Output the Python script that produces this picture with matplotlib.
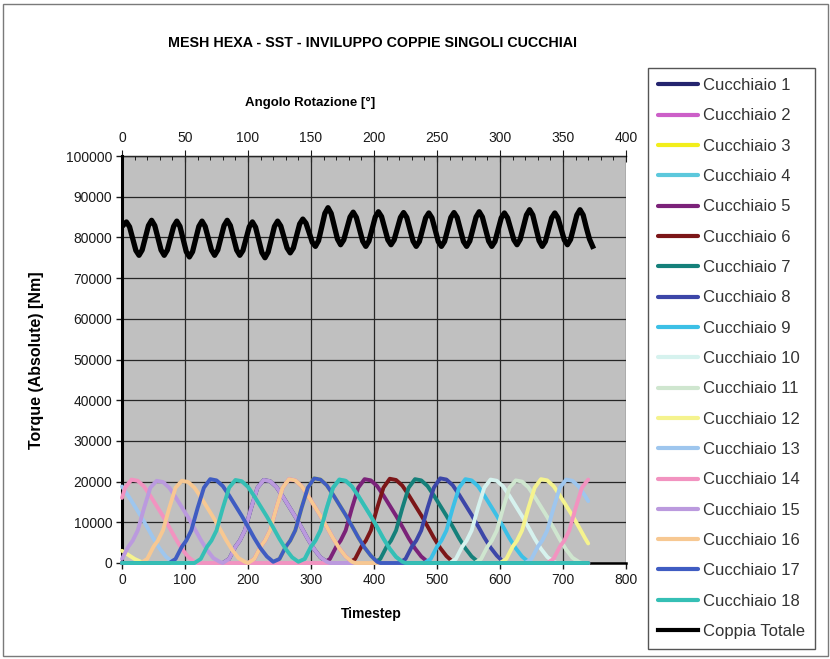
import numpy as np
import matplotlib
matplotlib.use('Agg')
import matplotlib.pyplot as plt
from matplotlib.ticker import MultipleLocator, FuncFormatter
from matplotlib.patches import Rectangle

plt.rcParams['font.family'] = ['Liberation Sans', 'DejaVu Sans']

# torque of each spoon, kNm (timestep, value)
t1 = [0, 160, 170, 180, 187, 195, 205, 215, 225, 235, 245, 255, 265, 275, 285, 295, 305, 315, 325, 330, 740]
v1 = [0, 0, 1.0, 4.0, 5.5, 8.0, 13.5, 18.5, 20.4, 20.1, 18.7, 16.4, 13.9, 11.4, 8.7, 5.9, 3.4, 1.4, 0.3, 0, 0]
t2 = [0, 200, 210, 220, 227, 235, 245, 255, 265, 275, 285, 295, 305, 315, 325, 335, 345, 355, 365, 370, 740]
v2 = [0, 0, 1.0, 4.0, 5.5, 8.0, 13.5, 18.5, 20.6, 20.3, 18.9, 16.6, 14.1, 11.6, 8.9, 6.1, 3.6, 1.6, 0.3, 0, 0]
t3 = [0, 240, 250, 260, 267, 275, 285, 295, 305, 315, 325, 335, 345, 355, 365, 375, 385, 395, 405, 410, 740]
v3 = [0, 0, 1.0, 4.0, 5.5, 8.0, 13.5, 18.5, 20.8, 20.5, 19.1, 16.8, 14.3, 11.8, 9.1, 6.3, 3.8, 1.8, 0.3, 0, 0]
t4 = [0, 280, 290, 300, 307, 315, 325, 335, 345, 355, 365, 375, 385, 395, 405, 415, 425, 435, 445, 450, 740]
v4 = [0, 0, 1.0, 4.0, 5.5, 8.0, 13.5, 18.5, 20.5, 20.2, 18.8, 16.5, 14.0, 11.5, 8.8, 6.0, 3.5, 1.5, 0.3, 0, 0]
t5 = [0, 320, 330, 340, 347, 355, 365, 375, 385, 395, 405, 415, 425, 435, 445, 455, 465, 475, 485, 490, 740]
v5 = [0, 0, 1.0, 4.0, 5.5, 8.0, 13.5, 18.5, 20.6, 20.3, 18.9, 16.6, 14.1, 11.6, 8.9, 6.1, 3.6, 1.6, 0.3, 0, 0]
t6 = [0, 360, 370, 380, 387, 395, 405, 415, 425, 435, 445, 455, 465, 475, 485, 495, 505, 515, 525, 530, 740]
v6 = [0, 0, 1.0, 4.0, 5.5, 8.0, 13.5, 18.5, 20.7, 20.4, 19.0, 16.7, 14.2, 11.7, 9.0, 6.2, 3.7, 1.7, 0.3, 0, 0]
t7 = [0, 400, 410, 420, 427, 435, 445, 455, 465, 475, 485, 495, 505, 515, 525, 535, 545, 555, 565, 570, 740]
v7 = [0, 0, 1.0, 4.0, 5.5, 8.0, 13.5, 18.5, 20.6, 20.3, 18.9, 16.6, 14.1, 11.6, 8.9, 6.1, 3.6, 1.6, 0.3, 0, 0]
t8 = [0, 440, 450, 460, 467, 475, 485, 495, 505, 515, 525, 535, 545, 555, 565, 575, 585, 595, 605, 610, 740]
v8 = [0, 0, 1.0, 4.0, 5.5, 8.0, 13.5, 18.5, 20.8, 20.5, 19.1, 16.8, 14.3, 11.8, 9.1, 6.3, 3.8, 1.8, 0.3, 0, 0]
t9 = [0, 480, 490, 500, 507, 515, 525, 535, 545, 555, 565, 575, 585, 595, 605, 615, 625, 635, 645, 650, 740]
v9 = [0, 0, 1.0, 4.0, 5.5, 8.0, 13.5, 18.5, 20.6, 20.3, 18.9, 16.6, 14.1, 11.6, 8.9, 6.1, 3.6, 1.6, 0.3, 0, 0]
t10 = [0, 520, 530, 540, 547, 555, 565, 575, 585, 595, 605, 615, 625, 635, 645, 655, 665, 675, 685, 690, 740]
v10 = [0, 0, 1.0, 4.0, 5.5, 8.0, 13.5, 18.5, 20.5, 20.2, 18.8, 16.5, 14.0, 11.5, 8.8, 6.0, 3.5, 1.5, 0.3, 0, 0]
t11 = [0, 560, 570, 580, 587, 595, 605, 615, 625, 635, 645, 655, 665, 675, 685, 695, 705, 715, 725, 730, 740]
v11 = [0, 0, 1.0, 4.0, 5.5, 8.0, 13.5, 18.5, 20.3, 20.0, 18.6, 16.3, 13.8, 11.3, 8.6, 5.8, 3.3, 1.3, 0.3, 0, 0]
t12 = [0, 10, 20, 30, 40, 600, 610, 620, 627, 635, 645, 655, 665, 675, 685, 695, 705, 715, 725, 735, 740]
v12 = [3.0, 2.0, 1.0, 0.3, 0, 0, 1.0, 4.0, 5.5, 8.0, 13.5, 18.5, 20.6, 20.3, 18.9, 16.6, 14.1, 11.6, 8.9, 6.1, 4.8]
t13 = [0, 10, 20, 30, 40, 50, 60, 70, 80, 85, 640, 650, 660, 667, 675, 685, 695, 705, 715, 725, 735, 740]
v13 = [18.8, 16.5, 14.0, 11.5, 8.8, 6.0, 3.5, 1.5, 0.3, 0, 0, 1.0, 4.0, 5.5, 8.0, 13.5, 18.5, 20.5, 20.2, 18.8, 16.5, 15.2]
t14 = [0, 5, 15, 25, 35, 45, 55, 65, 75, 85, 95, 105, 115, 120, 675, 685, 695, 702, 710, 720, 730, 740]
v14 = [16.0, 18.5, 20.5, 20.2, 18.8, 16.5, 14.0, 11.5, 8.8, 6.0, 3.5, 1.5, 0.3, 0, 0, 1.0, 4.0, 5.5, 8.0, 13.5, 18.5, 20.5]
t15 = [0, 10, 17, 25, 35, 45, 55, 65, 75, 85, 95, 105, 115, 125, 135, 145, 155,
       160, 170, 180, 187, 195, 205, 215, 225, 235, 245, 255, 265, 275, 285, 295, 305, 315, 325, 330, 740]
v15 = [1.0, 4.0, 5.5, 8.0, 13.5, 18.5, 20.2, 19.9, 18.5, 16.2, 13.7, 11.2, 8.5, 5.7, 3.2, 1.2, 0.3,
       0, 1.0, 4.0, 5.5, 8.0, 13.5, 18.5, 20.4, 20.1, 18.7, 16.4, 13.9, 11.4, 8.7, 5.9, 3.4, 1.4, 0.3, 0, 0]
t16 = [0, 30, 40, 50, 57, 65, 75, 85, 95, 105, 115, 125, 135, 145, 155, 165, 175, 185, 195,
       200, 210, 220, 227, 235, 245, 255, 265, 275, 285, 295, 305, 315, 325, 335, 345, 355, 365, 370, 740]
v16 = [0, 0, 1.0, 4.0, 5.5, 8.0, 13.5, 18.5, 20.2, 19.9, 18.5, 16.2, 13.7, 11.2, 8.5, 5.7, 3.2, 1.2, 0.3,
       0, 1.0, 4.0, 5.5, 8.0, 13.5, 18.5, 20.6, 20.3, 18.9, 16.6, 14.1, 11.6, 8.9, 6.1, 3.6, 1.6, 0.3, 0, 0]
t17 = [0, 75, 85, 95, 102, 110, 120, 130, 140, 150, 160, 170, 180, 190, 200, 210, 220, 230, 240,
       250, 260, 267, 275, 285, 295, 305, 315, 325, 335, 345, 355, 365, 375, 385, 395, 405, 410, 740]
v17 = [0, 0, 1.0, 4.0, 5.5, 8.0, 13.5, 18.5, 20.6, 20.3, 18.9, 16.6, 14.1, 11.6, 8.9, 6.1, 3.6, 1.6, 0.3,
       1.0, 4.0, 5.5, 8.0, 13.5, 18.5, 20.8, 20.5, 19.1, 16.8, 14.3, 11.8, 9.1, 6.3, 3.8, 1.8, 0.3, 0, 0]
t18 = [0, 115, 125, 135, 142, 150, 160, 170, 180, 190, 200, 210, 220, 230, 240, 250, 260, 270, 280,
       290, 300, 307, 315, 325, 335, 345, 355, 365, 375, 385, 395, 405, 415, 425, 435, 445, 450, 740]
v18 = [0, 0, 1.0, 4.0, 5.5, 8.0, 13.5, 18.5, 20.4, 20.1, 18.7, 16.4, 13.9, 11.4, 8.7, 5.9, 3.4, 1.4, 0.3,
       1.0, 4.0, 5.5, 8.0, 13.5, 18.5, 20.5, 20.2, 18.8, 16.5, 14.0, 11.5, 8.8, 6.0, 3.5, 1.5, 0.3, 0, 0]

# total torque (kNm), every 5 timesteps from 2 to 747
total_ts = np.arange(2, 748, 5)
total_v = [83.0,
           83.8, 82.6, 79.7, 76.8, 75.6, 76.9, 79.9, 82.9,
           84.2, 82.9, 79.9, 76.9, 75.6, 76.9, 79.8, 82.7,
           84.0, 82.7, 79.6, 76.5, 75.2, 76.5, 79.6, 82.7,
           84.0, 82.7, 79.8, 76.9, 75.6, 76.9, 79.9, 82.9,
           84.2, 82.9, 79.9, 76.9, 75.6, 76.8, 79.7, 82.6,
           83.8, 82.5, 79.4, 76.3, 75.0, 76.4, 79.5, 82.7,
           84.0, 82.8, 80.1, 77.4, 76.2, 77.4, 80.4, 83.3,
           84.5, 83.5, 81.2, 78.8, 77.8, 79.2, 82.6, 85.9,
           87.3, 85.9, 82.8, 79.6, 78.2, 79.4, 82.2, 85.0,
           86.2, 84.9, 82.0, 79.1, 77.8, 79.1, 82.1, 85.0,
           86.3, 85.1, 82.3, 79.4, 78.2, 79.4, 82.2, 84.9,
           86.1, 84.9, 82.0, 79.1, 77.8, 79.0, 81.9, 84.8,
           86.0, 84.8, 81.9, 79.0, 77.8, 79.0, 82.0, 84.9,
           86.1, 84.9, 82.0, 79.0, 77.8, 79.1, 82.1, 85.0,
           86.3, 85.0, 82.1, 79.1, 77.8, 79.0, 81.9, 84.8,
           86.0, 84.8, 82.1, 79.4, 78.2, 79.5, 82.5, 85.5,
           86.8, 85.5, 82.3, 79.2, 77.8, 79.0, 81.9, 84.8,
           86.0, 84.8, 82.1, 79.4, 78.2, 79.5, 82.5, 85.5,
           86.8, 85.5, 82.4, 79.6, 77.8]

spoon_t = [t1, t2, t3, t4, t5, t6, t7, t8, t9, t10, t11, t12, t13, t14, t15, t16, t17, t18]
spoon_v = [v1, v2, v3, v4, v5, v6, v7, v8, v9, v10, v11, v12, v13, v14, v15, v16, v17, v18]
labels = ['Cucchiaio %d' % i for i in range(1, 19)] + ['Coppia Totale']
colors = ['#24246e', '#cc5fc8', '#f2ee1c', '#5cc8dc', '#7b2279', '#7c1618',
          '#15807a', '#3c46a8', '#3cc0e6', '#d6f2ee', '#cfe6cf', '#f5f38e',
          '#9ec6ee', '#f293c0', '#bb9ade', '#f7c892', '#3f5cc2', '#35bfb5']

fig = plt.figure(figsize=(8.3, 6.59), dpi=100)
fig.patches.append(Rectangle((3 / 830, 3 / 659), 825 / 830, 652 / 659, transform=fig.transFigure,
                             fill=False, edgecolor='#7a7a7a', lw=1))
ax = fig.add_axes([122 / 830, 1 - 563 / 659, 504 / 830, 407 / 659])
ax.set_facecolor('#c0c0c0')

handles = []
for t, v, c in zip(spoon_t, spoon_v, colors):
    ln, = ax.plot(t, np.array(v) * 1000, color=c, lw=2.8, zorder=3, clip_on=False,
                  solid_joinstyle='round', solid_capstyle='round')
    handles.append(ln)
ln, = ax.plot(total_ts, np.array(total_v) * 1000, color='black', lw=3.8, zorder=4,
              solid_joinstyle='round')
handles.append(ln)

ax.set_xlim(0, 800)
ax.set_ylim(0, 100000)
ax.set_xticks(range(0, 801, 100))
ax.set_yticks(range(0, 100001, 10000))
ax.yaxis.set_major_formatter(FuncFormatter(lambda y, p: '%d' % y))
ax.grid(True, color='#262626', lw=0.9)
ax.set_axisbelow(True)
ax.tick_params(labelsize=10, colors='#1a1a1a', length=4, width=1, pad=3)
ax.spines['right'].set_visible(False)
ax.spines['top'].set_visible(False)
ax.spines['left'].set_linewidth(2.2)
ax.spines['bottom'].set_linewidth(1.8)

sec = ax.secondary_xaxis('top', functions=(lambda x: x / 2, lambda a: a * 2))
sec.set_xticks(range(0, 401, 50))
sec.xaxis.set_minor_locator(MultipleLocator(10))
sec.tick_params(which='major', direction='inout', length=8, labelsize=10, colors='#1a1a1a', pad=4)
sec.tick_params(which='minor', direction='in', length=3)
sec.spines['top'].set_linewidth(1.0)

fig.text(372 / 830, 1 - 43 / 659, 'MESH HEXA - SST - INVILUPPO COPPIE SINGOLI CUCCHIAI',
         ha='center', va='center', fontsize=10.3, fontweight='bold')
fig.text(310 / 830, 1 - 103 / 659, 'Angolo Rotazione [°]', ha='center', va='center',
         fontsize=9.5, fontweight='bold')
fig.text(371 / 830, 1 - 614 / 659, 'Timestep', ha='center', va='center',
         fontsize=10, fontweight='bold')
fig.text(37 / 830, 1 - 360 / 659, 'Torque (Absolute) [Nm]', ha='center', va='center',
         rotation=90, fontsize=11.5, fontweight='bold')

leg = ax.legend(handles, labels, loc='upper left', bbox_to_anchor=(648 / 830, 1 - 68 / 659),
                bbox_transform=fig.transFigure, borderaxespad=0, fancybox=False,
                edgecolor='#555555', fontsize=12, handlelength=2.4, handletextpad=0.3,
                labelspacing=0.92, borderpad=0.6, framealpha=1)
leg.get_frame().set_linewidth(1.0)
for h in leg.legend_handles:
    h.set_linewidth(3)
for tx in leg.get_texts():
    tx.set_color('#333333')

fig.savefig('out.png', dpi=100)
